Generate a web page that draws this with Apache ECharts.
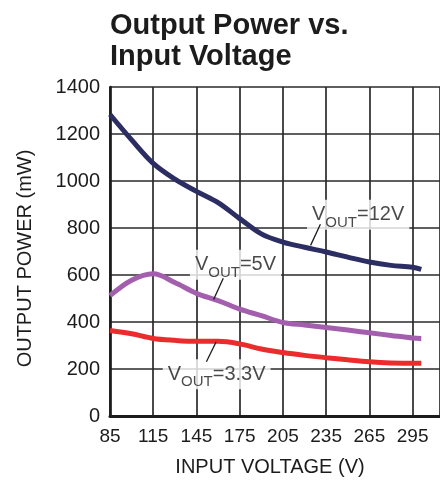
<!DOCTYPE html>
<html>
<head>
<meta charset="utf-8">
<script src="https://cdn.jsdelivr.net/npm/echarts@6/dist/echarts.min.js"></script>
<style>
  html, body { margin: 0; padding: 0; background: #fff; }
  #chart { width: 440px; height: 482px; }
</style>
</head>
<body>
<div id="chart"></div>
<script>
// Input voltage sample points (V)
const inputVoltage = [85, 100, 115, 130, 145, 160, 175, 190, 205, 220, 235, 250, 265, 280, 295, 301];

// Output power (mW) for each output voltage
const power12V = [1283, 1175, 1075, 1008, 956, 908, 840, 775, 740, 718, 698, 676, 655, 641, 633, 624];
const power5V  = [512, 578, 605, 568, 522, 491, 455, 427, 398, 387, 377, 366, 354, 343, 332, 330];
const power33V = [364, 350, 330, 322, 318, 318, 307, 285, 270, 258, 248, 239, 231, 226, 224, 224];

// Axis ticks
const xTicks = [85, 115, 145, 175, 205, 235, 265, 295];
const yTicks = [0, 200, 400, 600, 800, 1000, 1200, 1400];

// Curve annotations: text, anchor (data coords) and leader line ends (data coords)
const annotations = [
  { text: '=12V',  at: [257.2, 856], leader: [[231.0, 816], [224.2, 726]] },
  { text: '=5V',   at: [172.1, 644], leader: [[163.6, 586], [156.9, 496]] },
  { text: '=3.3V', at: [159.0, 178], leader: [[158.6, 315], [151.9, 231]] }
];

const FONT = "'Liberation Sans', Arial, Helvetica, sans-serif";
const INK = '#1c1c1c';
const GRID = '#2a2a2a';

function pairs(xs, ys) { return xs.map((x, i) => [x, ys[i]]); }

const curveSeries = [
  { values: power12V, color: '#2c2d63' },
  { values: power5V,  color: '#a35fae' },
  { values: power33V, color: '#ec2c2c' }
].map(c => ({
  type: 'line',
  data: pairs(inputVoltage, c.values),
  smooth: 0.35,
  showSymbol: false,
  symbol: 'none',
  lineStyle: { color: c.color, width: 5, cap: 'butt' },
  z: 3,
  silent: true
}));

const labelSeries = {
  type: 'scatter',
  symbolSize: 0,
  silent: true,
  z: 5,
  data: annotations.map(a => ({
    value: a.at,
    label: {
      show: true,
      position: 'inside',
      formatter: '{v|V}{s|OUT}{v|' + a.text + '}',
      backgroundColor: '#ffffff',
      padding: [0, 5, 0, 5],
      rich: {
        v: { fontFamily: FONT, fontSize: 20, lineHeight: 30, color: INK },
        s: { fontFamily: FONT, fontSize: 15, lineHeight: 14, padding: [16, 0, 0, 0], color: INK }
      }
    }
  }))
};

const leaderSeries = annotations.map(a => ({
  type: 'line',
  data: a.leader,
  symbol: 'none',
  showSymbol: false,
  silent: true,
  z: 6,
  lineStyle: { color: INK, width: 1.3 }
}));

const chart = echarts.init(document.getElementById('chart'), null, { renderer: 'canvas' });

chart.setOption({
  animation: false,
  backgroundColor: '#ffffff',
  title: {
    text: 'Output Power vs.\nInput Voltage',
    left: 105,
    top: 5,
    textStyle: {
      fontFamily: FONT,
      fontWeight: 'bold',
      fontSize: 29,
      lineHeight: 31,
      color: INK
    }
  },
  grid: { left: 110, right: -10, top: 87, bottom: 60, containLabel: false },
  xAxis: {
    type: 'value',
    min: xTicks[0],
    max: 314,
    interval: xTicks[1] - xTicks[0],
    name: 'INPUT VOLTAGE (V)',
    nameLocation: 'middle',
    nameGap: 41,
    nameTextStyle: { fontFamily: FONT, fontSize: 20, color: INK, padding: [0, 10, 0, 0] },
    axisLine: { show: true, lineStyle: { color: INK, width: 3 } },
    axisTick: { show: false },
    axisLabel: {
      fontFamily: FONT, fontSize: 19, color: INK, margin: 11,
      showMaxLabel: false,
      formatter: v => (xTicks.indexOf(v) >= 0 ? String(v) : '')
    },
    splitLine: { show: true, lineStyle: { color: GRID, width: 1.7 } }
  },
  yAxis: {
    type: 'value',
    min: yTicks[0],
    max: yTicks[yTicks.length - 1],
    interval: yTicks[1] - yTicks[0],
    name: 'OUTPUT POWER (mW)',
    nameLocation: 'middle',
    nameGap: 75,
    nameTextStyle: { fontFamily: FONT, fontSize: 20, color: INK, padding: [0, 14, 0, 0] },
    axisLine: { show: true, lineStyle: { color: INK, width: 2.7 } },
    axisTick: { show: false },
    axisLabel: {
      fontFamily: FONT, fontSize: 20, color: INK, margin: 10,
      formatter: v => String(v)
    },
    splitLine: { show: true, lineStyle: { color: GRID, width: 1.7 } }
  },
  series: curveSeries.concat([labelSeries], leaderSeries)
});
</script>
</body>
</html>
